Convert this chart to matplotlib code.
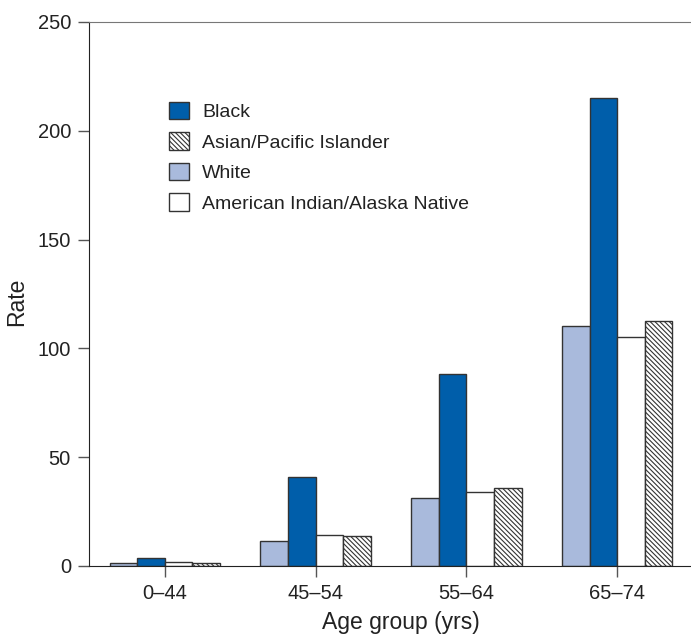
import numpy as np
import matplotlib
matplotlib.use("Agg")
from matplotlib import pyplot as plt
from matplotlib.patches import Patch

plt.rcParams['font.family'] = ['Liberation Sans', 'DejaVu Sans']
plt.rcParams['hatch.linewidth'] = 0.8

groups = ['0\u201344', '45\u201354', '55\u201364', '65\u201374']
white = [1.5, 11.7, 31.3, 110.4]
black = [3.7, 40.7, 88.0, 215.0]
aian = [1.8, 14.4, 33.8, 105.0]
asian = [1.5, 13.7, 36.0, 112.6]

c_black = '#005EAA'
c_white = '#A9BADC'
edge = '#333333'
hatch = '\\' * 7

fig = plt.figure(figsize=(6.91, 6.37), dpi=100)
ax = fig.add_axes([0.1288, 0.1115, 0.8712, 0.854])

x = np.arange(len(groups))
w = 0.183
ax.bar(x - 1.5 * w, white, w, color=c_white, edgecolor=edge, lw=1)
ax.bar(x - 0.5 * w, black, w, color=c_black, edgecolor=edge, lw=1)
ax.bar(x + 0.5 * w, aian, w, color='white', edgecolor=edge, lw=1)
ax.bar(x + 1.5 * w, asian, w, color='white', edgecolor=edge, lw=1, hatch=hatch)

ax.set_xlim(-0.503, 3.49)
ax.set_ylim(0, 250)
ax.set_xticks(x)
ax.set_xticklabels(groups)
ax.set_yticks([0, 50, 100, 150, 200, 250])
ax.tick_params(axis='both', labelsize=14.5, length=8, width=1, colors='#555555',
               labelcolor='#222222', pad=5)

ax.spines['right'].set_visible(False)
ax.spines['top'].set_color('#777777')
ax.spines['left'].set_color('#222222')
ax.spines['bottom'].set_color('#222222')

ax.set_xlabel('Age group (yrs)', fontsize=16.5, color='#222222')
ax.xaxis.set_label_coords(0.518, -0.082)
ax.set_ylabel('Rate', fontsize=16.5, color='#222222')
ax.yaxis.set_label_coords(-0.101, 0.485)

handles = [
    Patch(facecolor=c_black, edgecolor=edge, label='Black'),
    Patch(facecolor='white', edgecolor=edge, hatch=hatch, label='Asian/Pacific Islander'),
    Patch(facecolor=c_white, edgecolor=edge, label='White'),
    Patch(facecolor='white', edgecolor=edge, label='American Indian/Alaska Native'),
]
leg = ax.legend(handles=handles, loc='upper left', bbox_to_anchor=(0.133, 0.853),
                frameon=False, fontsize=14, handlelength=1.0, handleheight=1.0,
                handletextpad=0.7, labelspacing=0.57, borderpad=0, borderaxespad=0)
for t in leg.get_texts():
    t.set_color('#222222')

plt.savefig('out.png')
